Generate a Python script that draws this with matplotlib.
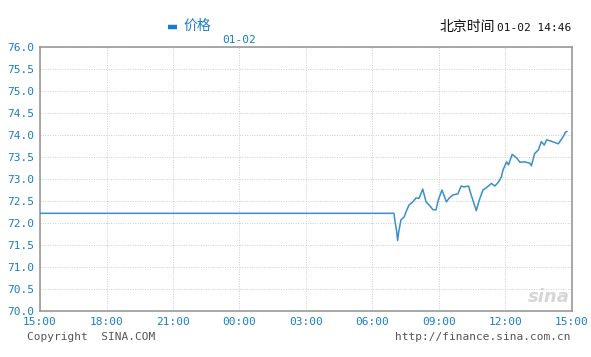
import matplotlib
matplotlib.use("Agg")
import matplotlib.pyplot as plt
from matplotlib.lines import Line2D

# ---- data ----
times = ["15:00", "06:58", "07:01", "07:05", "07:08", "07:11", "07:17", "07:26", "07:31",
         "07:39", "07:49", "07:58", "08:06", "08:16", "08:25", "08:33", "08:44", "08:52",
         "08:58", "09:08", "09:20", "09:28", "09:38", "09:51", "10:00", "10:08", "10:20",
         "10:27", "10:41", "10:49", "10:59", "11:08", "11:22", "11:31", "11:41", "11:49",
         "11:53", "12:03", "12:08", "12:18", "12:30", "12:39", "12:51", "13:06", "13:10",
         "13:19", "13:29", "13:37", "13:45", "13:51", "14:00", "14:10", "14:23", "14:36",
         "14:42", "14:46"]
prices = [72.22, 72.22, 72.03, 71.84, 71.60, 71.80, 72.07, 72.14, 72.26,
          72.41, 72.48, 72.57, 72.56, 72.77, 72.48, 72.41, 72.30, 72.30,
          72.52, 72.75, 72.48, 72.57, 72.64, 72.66, 72.84, 72.82, 72.84,
          72.64, 72.28, 72.52, 72.75, 72.80, 72.90, 72.84, 72.93, 73.05,
          73.20, 73.39, 73.32, 73.56, 73.48, 73.38, 73.39, 73.36, 73.30,
          73.58, 73.66, 73.85, 73.77, 73.89, 73.87, 73.84, 73.80, 73.96,
          74.06, 74.08]
x_tick_labels = ["15:00", "18:00", "21:00", "00:00", "03:00", "06:00", "09:00", "12:00", "15:00"]
y_ticks = [70.0, 70.5, 71.0, 71.5, 72.0, 72.5, 73.0, 73.5, 74.0, 74.5, 75.0, 75.5, 76.0]


def to_hours(t):
    h, m = map(int, t.split(":"))
    return ((h - 15) % 24) + m / 60.0


xs = [to_hours(t) for t in times]
x_ticks = [3 * i for i in range(len(x_tick_labels))]

W, H = 591, 357
fig = plt.figure(figsize=(W / 100, H / 100), dpi=100)
fig.patch.set_facecolor("white")
L, R, T, B = 40, 572, 47, 311
ax = fig.add_axes([L / W, 1 - B / H, (R - L) / W, (B - T) / H])

blue = "#1a7dc4"
line_c = "#3a8fcc"
mono = "DejaVu Sans Mono"

ax.plot(xs, prices, color=line_c, lw=1.1, zorder=3)
ax.set_xlim(0, 24)
ax.set_ylim(70, 76)
ax.set_xticks(x_ticks)
ax.set_xticklabels(x_tick_labels)
ax.set_yticks(y_ticks)
ax.set_yticklabels([f"{v:.1f}" for v in y_ticks])
for lab in ax.get_xticklabels() + ax.get_yticklabels():
    lab.set_fontfamily(mono)
    lab.set_fontsize(8)
    lab.set_color(blue)
ax.tick_params(length=0, pad=4)
ax.grid(True, color="#cccccc", linestyle=(0, (1, 1.5)), lw=0.7)
for s in ax.spines.values():
    s.set_color("#999999")
    s.set_linewidth(1.2)

# watermark
ax.text(0.995, 0.02, "sina", transform=ax.transAxes, ha="right", va="bottom",
        fontsize=13, fontstyle="italic", fontweight="bold", color="#d6d6d6", zorder=1)

# header legend
fig.add_artist(Line2D([168 / W, 177 / W], [1 - 27 / H, 1 - 27 / H],
                      transform=fig.transFigure, color=blue, lw=3.2,
                      solid_capstyle="butt"))
fig.text(183 / W, 1 - 26 / H, "价格", color=blue, fontsize=10,
         family=["Noto Sans CJK SC", "DejaVu Sans"], va="center", ha="left")
fig.text(222 / W, 1 - 40 / H, "01-02", color=blue, fontsize=8, family=mono,
         va="center", ha="left")
fig.text(440 / W, 1 - 27 / H, "北京时间", color="#111111", fontsize=10,
         family=["Noto Sans CJK SC", "DejaVu Sans"], va="center", ha="left")
fig.text(497 / W, 1 - 28 / H, "01-02 14:46", color="#111111", fontsize=8,
         family=mono, va="center", ha="left")

# footer
fig.text(27 / W, 1 - 337 / H, "Copyright  SINA.COM", color="#555555", fontsize=8,
         family=mono, va="center", ha="left")
fig.text(571 / W, 1 - 337 / H, "http://finance.sina.com.cn", color="#555555",
         fontsize=8, family=mono, va="center", ha="right")

fig.savefig("out.png", dpi=100)
